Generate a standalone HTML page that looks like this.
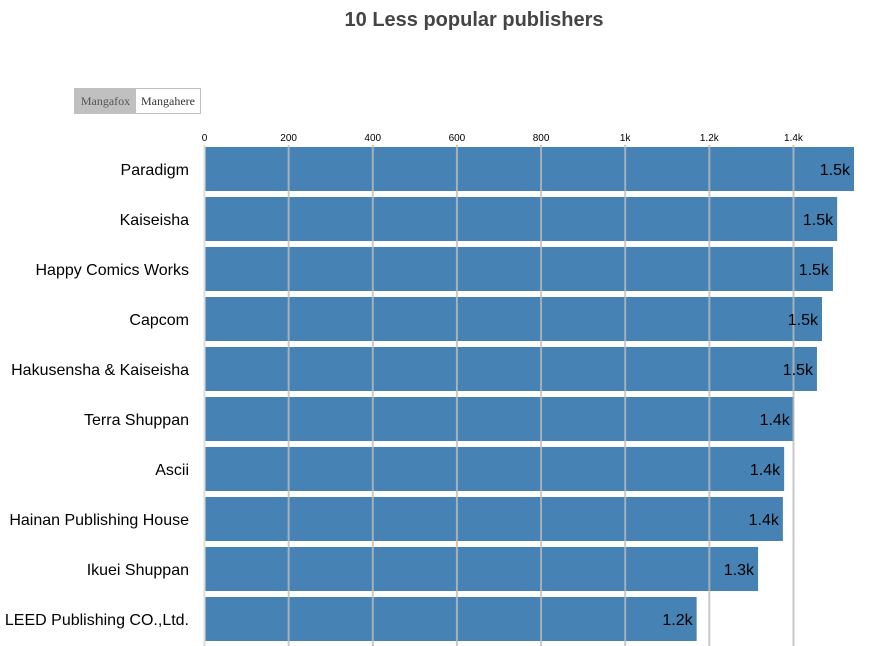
<!DOCTYPE html>
<html><head><meta charset="utf-8"><style>
body{margin:0;background:#fff;width:872px;height:646px;overflow:hidden;font-family:"Liberation Sans",sans-serif;}
.btn{position:absolute;top:88px;height:24px;line-height:24px;font-family:"Liberation Serif",serif;font-size:12px;color:#555;border:1px solid #c0c0c0;box-sizing:content-box;text-align:center;}
</style></head><body>
<div style="position:absolute;left:0;width:948px;top:9px;text-align:center;font-weight:bold;font-size:20px;color:#444;">10 Less popular publishers</div>
<div class="btn" style="left:74px;width:61px;background:#c0c0c0;">Mangafox</div>
<div class="btn" style="left:135px;width:64px;background:#fff;color:#333;">Mangahere</div>
<svg id="c" width="872" height="646" style="position:absolute;left:0;top:0"></svg>
<script>
const categories=["Paradigm","Kaiseisha","Happy Comics Works","Capcom","Hakusensha & Kaiseisha","Terra Shuppan","Ascii","Hainan Publishing House","Ikuei Shuppan","LEED Publishing CO.,Ltd."];
const values=[1545,1505,1495,1469,1457,1402,1379,1376,1317,1171];
const labels=["1.5k","1.5k","1.5k","1.5k","1.5k","1.4k","1.4k","1.4k","1.3k","1.2k"];
const ticks=[0,200,400,600,800,1000,1200,1400];
const tickLabels=["0","200","400","600","800","1k","1.2k","1.4k"];
const svg=document.getElementById('c');const NS='http://www.w3.org/2000/svg';
const x=v=>204+v*0.4207;const y=i=>147+i*50;
function mk(t,a){const e=document.createElementNS(NS,t);for(const k in a)e.setAttribute(k,a[k]);svg.appendChild(e);return e;}
values.forEach((v,i)=>{
 const r=mk('rect',{x:205,y:y(i),width:x(v)-205,height:44,fill:'#4682b4'});
 
 
});
ticks.forEach((t,i)=>{
 const l=mk('line',{x1:x(t)+0.5,x2:x(t)+0.5,y1:145,y2:646,stroke:i==0?'#ddd':'#bbb','stroke-opacity':i==0?1:0.8,'stroke-width':2});
 
 
 const tx=mk('text',{x:x(t)+0.5,y:141,'text-anchor':'middle','font-size':10,fill:'#000'});tx.textContent=tickLabels[i];
 
 
});
values.forEach((v,i)=>{
 const c=mk('text',{x:189,y:y(i)+28,'text-anchor':'end','font-size':16,fill:'#000'});c.textContent=categories[i];
 
 
 const t=mk('text',{x:x(v)-4,y:y(i)+28,'text-anchor':'end','font-size':16,fill:'#000'});t.textContent=labels[i];
 
 
});
</script>
</body></html>
